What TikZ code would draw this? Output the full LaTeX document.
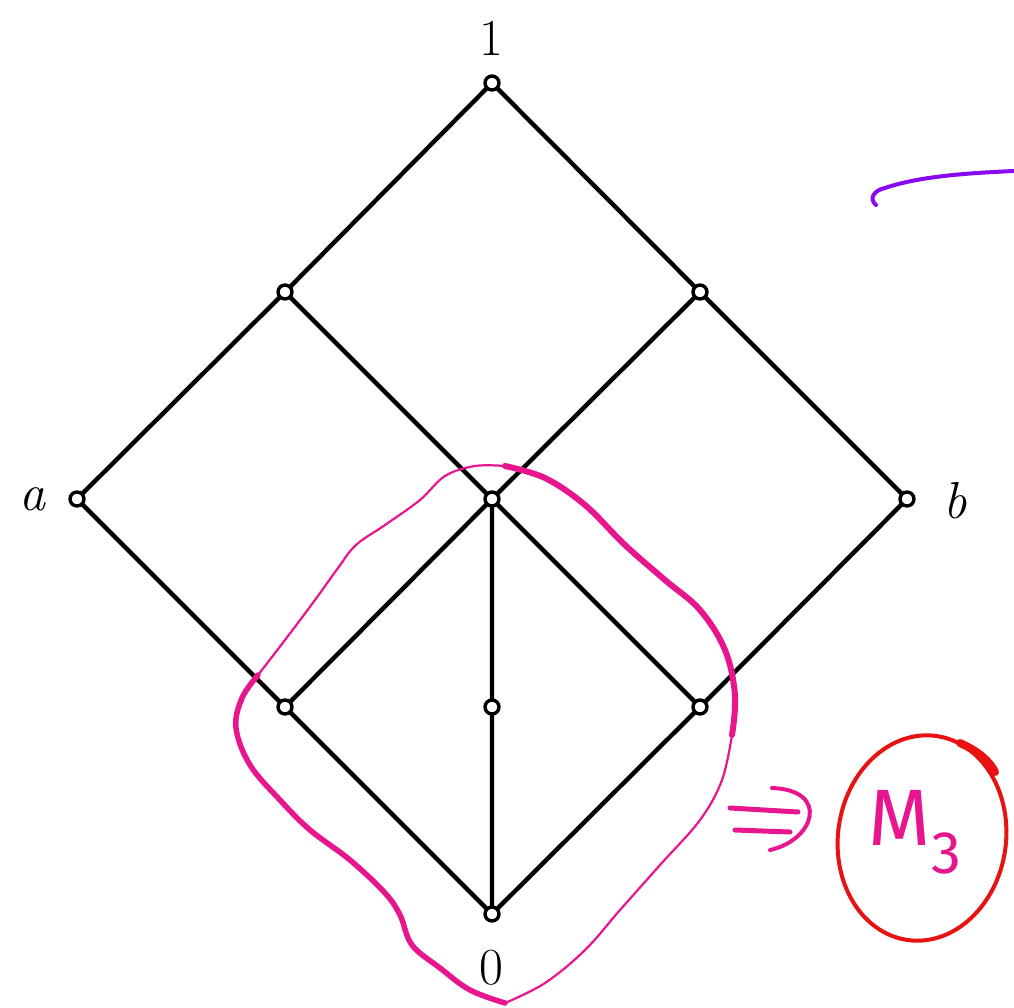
\documentclass[tikz,border=0pt]{standalone}
\usepackage{fontspec}
\newfontfamily\handfont{Fira Sans}
\begin{document}
\begin{tikzpicture}[x=1pt,y=-1pt,
  vtx/.style={circle,draw=black,fill=white,line width=3.4pt,inner sep=0pt,minimum size=14pt},
  edge/.style={draw=black,line width=4.4pt},
  lbl/.style={font=\fontsize{52}{58}\selectfont,inner sep=0pt},
  pinkpen/.style={draw=hotpink,line cap=round,line join=round}]
\definecolor{hotpink}{RGB}{232,22,142}
\definecolor{penred}{RGB}{232,18,18}
\definecolor{penpurple}{RGB}{136,8,240}
\useasboundingbox (0,0) rectangle (1014,1008);
\fill[white] (0,0) rectangle (1014,1008);
% vertices
\coordinate (p1) at (492,83);
\coordinate (pl) at (285,292);
\coordinate (pr) at (700,292);
\coordinate (pa) at (77,499);
\coordinate (pc) at (492,499);
\coordinate (pb) at (907,499);
\coordinate (ql) at (285,707);
\coordinate (qm) at (492,707);
\coordinate (qr) at (700,707);
\coordinate (p0) at (492,914);
% edges
\draw[edge] (p1) -- (pl) (p1) -- (pr)
  (pl) -- (pa) (pl) -- (pc) (pr) -- (pc) (pr) -- (pb)
  (pa) -- (ql) (pc) -- (ql) (pc) -- (qm) (pc) -- (qr) (pb) -- (qr)
  (ql) -- (p0) (qm) -- (p0) (qr) -- (p0);
\foreach \n in {p1,pl,pr,pa,pc,pb,ql,qm,qr,p0} \node[vtx] (v\n) at (\n) {};
% labels
\node[lbl] (l1) at (491,38) {1};
\node[lbl] (l0) at (491,968) {0};
\node[lbl] (la) at (33,499) {\textit{a}};
\node[lbl] (lb) at (955,501) {\textit{b}};
% pink loop
\draw[pinkpen,line width=6pt] plot[smooth,tension=0.6] coordinates {(505,466) (545,478) (585,505) (625,545) (665,580) (700,610) (725,650) (735,695) (732,735)};
\draw[pinkpen,line width=2.2pt] plot[smooth,tension=0.6] coordinates {(732,735) (722,780) (700,820) (660,865) (620,910) (585,950) (545,983) (505,1003)};
\draw[pinkpen,line width=5.5pt] plot[smooth,tension=0.6] coordinates {(505,1003) (470,990) (440,968) (412,945) (400,915) (385,893) (350,860) (310,830) (280,800) (250,765) (236,728) (242,698) (258,675)};
\draw[pinkpen,line width=2.2pt] plot[smooth,tension=0.6] coordinates {(258,675) (285,640) (315,600) (338,568) (356,545) (385,525) (420,500) (445,476) (475,466) (505,466)};
% implies arrow
\draw[pinkpen,line width=5pt] (730,808) -- (798,812);
\draw[pinkpen,line width=5pt] (735,830) -- (790,832);
\draw[pinkpen,line width=4pt] (772,788) .. controls (830,790) and (815,840) .. (770,850);
% M3 text
\node[text=hotpink,inner sep=0pt,font=\handfont\fontsize{80}{90}\selectfont] (m3) at (915,832) {M\raisebox{-0.35em}{\fontsize{60}{60}\selectfont 3}};
% red circle
\draw[penred,line width=4pt,rotate around={-8:(922,838)}] (922,838) ellipse [x radius=84,y radius=103];
\draw[penred,line width=8pt,line cap=round] (960,743) .. controls (980,752) and (990,762) .. (995,772);
% purple stroke
\draw[penpurple,line width=4pt,line cap=round] (876,205) .. controls (868,198) and (875,190) .. (885,188)
  .. controls (920,176) and (970,173) .. (1014,171);
\end{tikzpicture}
\end{document}
